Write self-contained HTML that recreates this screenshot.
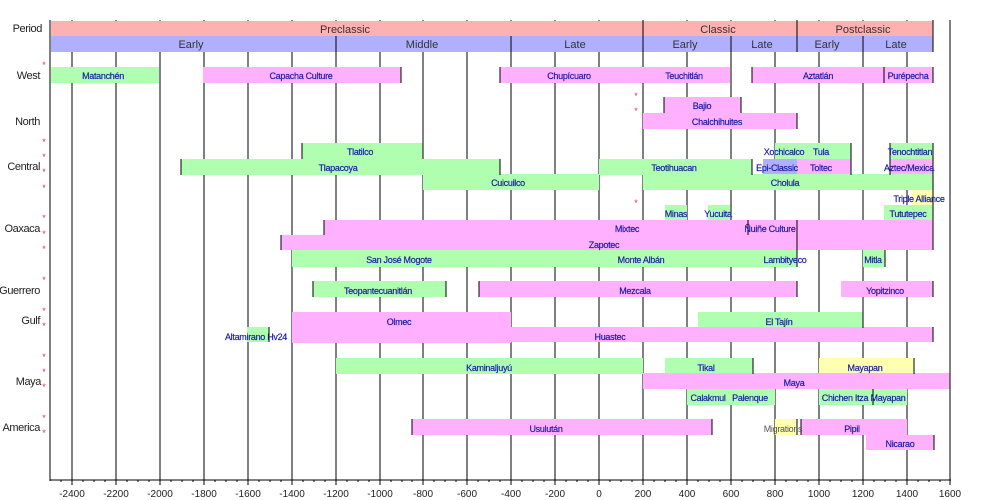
<!DOCTYPE html>
<html><head><meta charset="utf-8"><style>
body{margin:0;background:#fff}
svg{display:block}
.l{font-family:"Liberation Sans",sans-serif;font-size:9px;fill:#1c1ca8;text-anchor:middle;letter-spacing:-0.3px;stroke:#1c1ca8;stroke-width:0.2px}
.p{font-family:"Liberation Sans",sans-serif;font-size:11px;fill:#333;text-anchor:middle}
.r{font-family:"Liberation Sans",sans-serif;font-size:11px;fill:#222;text-anchor:end;letter-spacing:-0.4px}
.t{font-family:"Liberation Sans",sans-serif;font-size:10px;fill:#222;text-anchor:middle}
.s{font-family:"Liberation Sans",sans-serif;font-size:9px;fill:#e03060;text-anchor:middle}
.g{fill:#b0ffb0}.k{fill:#ffb0ff}.y{fill:#ffffb0}.b{fill:#b0b0ff}.pp{fill:#ffb0b0}
line,path{shape-rendering:crispEdges}
</style></head><body>
<svg width="1000" height="500" viewBox="0 0 1000 500">
<g stroke="#000" stroke-width="1">
<line x1="72" y1="20" x2="72" y2="480"/><line x1="116" y1="20" x2="116" y2="480"/><line x1="160" y1="20" x2="160" y2="480"/><line x1="204" y1="20" x2="204" y2="480"/><line x1="248" y1="20" x2="248" y2="480"/><line x1="292" y1="20" x2="292" y2="480"/><line x1="336" y1="20" x2="336" y2="480"/><line x1="380" y1="20" x2="380" y2="480"/><line x1="423" y1="20" x2="423" y2="480"/><line x1="467" y1="20" x2="467" y2="480"/><line x1="511" y1="20" x2="511" y2="480"/><line x1="555" y1="20" x2="555" y2="480"/><line x1="599" y1="20" x2="599" y2="480"/><line x1="643" y1="20" x2="643" y2="480"/><line x1="687" y1="20" x2="687" y2="480"/><line x1="731" y1="20" x2="731" y2="480"/><line x1="775" y1="20" x2="775" y2="480"/><line x1="819" y1="20" x2="819" y2="480"/><line x1="863" y1="20" x2="863" y2="480"/><line x1="907" y1="20" x2="907" y2="480"/>
</g>
<rect class="pp" x="51" y="21" width="882" height="15"/>
<rect class="b" x="51" y="36" width="882" height="16"/>
<g stroke="#000"><line x1="643" y1="20" x2="643" y2="52"/><line x1="797" y1="20" x2="797" y2="52"/><line x1="933" y1="20" x2="933" y2="52"/><line x1="336" y1="36" x2="336" y2="52"/><line x1="511" y1="36" x2="511" y2="52"/><line x1="731" y1="36" x2="731" y2="52"/><line x1="863" y1="36" x2="863" y2="52"/></g>
<text class="p" x="345" y="33">Preclassic</text><text class="p" x="718" y="33">Classic</text><text class="p" x="863" y="33">Postclassic</text>
<text class="p" x="191" y="48">Early</text><text class="p" x="422" y="48">Middle</text><text class="p" x="575" y="48">Late</text><text class="p" x="685" y="48">Early</text><text class="p" x="762" y="48">Late</text><text class="p" x="827" y="48">Early</text><text class="p" x="896" y="48">Late</text>
<rect class="g" x="51" y="67" width="108" height="16"/>
<rect class="k" x="203" y="67" width="198" height="16"/>
<rect class="k" x="500" y="67" width="230" height="16"/>
<rect class="k" x="752" y="67" width="181" height="16"/>
<rect class="k" x="664" y="97" width="77" height="16"/>
<rect class="k" x="643" y="113" width="154" height="16"/>
<rect class="g" x="302" y="143" width="121" height="16"/>
<rect class="g" x="775" y="143" width="76" height="16"/>
<rect class="g" x="890" y="143" width="43" height="16"/>
<rect class="g" x="181" y="159" width="319" height="16"/>
<rect class="g" x="599" y="159" width="153" height="16"/>
<rect class="b" x="763" y="159" width="34" height="16"/>
<rect class="k" x="797" y="159" width="54" height="16"/>
<rect class="k" x="890" y="159" width="43" height="16"/>
<rect class="g" x="423" y="174" width="176" height="16"/>
<rect class="g" x="643" y="174" width="290" height="16"/>
<rect class="y" x="912" y="190" width="21" height="15"/>
<rect class="g" x="665" y="205" width="22" height="15"/>
<rect class="g" x="708" y="205" width="22" height="15"/>
<rect class="g" x="884" y="205" width="49" height="15"/>
<rect class="k" x="324" y="220" width="609" height="15"/>
<rect class="k" x="281" y="235" width="652" height="15"/>
<rect class="g" x="292" y="250" width="505" height="17"/>
<rect class="g" x="863" y="250" width="22" height="17"/>
<rect class="g" x="313" y="281" width="133" height="16"/>
<rect class="k" x="479" y="281" width="318" height="16"/>
<rect class="k" x="841" y="281" width="92" height="16"/>
<rect class="k" x="292" y="312" width="219" height="31"/>
<rect class="g" x="698" y="312" width="165" height="16"/>
<rect class="g" x="247" y="327" width="22" height="15"/>
<rect class="k" x="511" y="327" width="422" height="15"/>
<rect class="g" x="336" y="358" width="307" height="16"/>
<rect class="g" x="665" y="358" width="88" height="16"/>
<rect class="y" x="819" y="358" width="95" height="16"/>
<rect class="k" x="643" y="373" width="307" height="16"/>
<rect class="g" x="687" y="389" width="88" height="16"/>
<rect class="g" x="819" y="389" width="88" height="16"/>
<rect class="k" x="412" y="419" width="300" height="16"/>
<rect class="y" x="775" y="419" width="22" height="16"/>
<rect class="k" x="801" y="419" width="106" height="16"/>
<rect class="k" x="866" y="435" width="68" height="15"/>
<g stroke="#000">
<line x1="401" y1="67" x2="401" y2="83"/><line x1="500" y1="67" x2="500" y2="83"/><line x1="752" y1="67" x2="752" y2="83"/><line x1="884" y1="67" x2="884" y2="83"/><line x1="933" y1="67" x2="933" y2="83"/>
<line x1="664" y1="97" x2="664" y2="113"/><line x1="741" y1="97" x2="741" y2="113"/><line x1="797" y1="113" x2="797" y2="129"/>
<line x1="302" y1="143" x2="302" y2="159"/><line x1="423" y1="143" x2="423" y2="159"/><line x1="851" y1="143" x2="851" y2="175"/><line x1="890" y1="143" x2="890" y2="175"/>
<line x1="181" y1="159" x2="181" y2="175"/><line x1="500" y1="159" x2="500" y2="175"/><line x1="752" y1="159" x2="752" y2="175"/><line x1="933" y1="143" x2="933" y2="250"/>
<line x1="324" y1="220" x2="324" y2="235"/><line x1="748" y1="220" x2="748" y2="235"/><line x1="797" y1="220" x2="797" y2="267"/><line x1="281" y1="235" x2="281" y2="250"/><line x1="885" y1="250" x2="885" y2="267"/>
<line x1="313" y1="281" x2="313" y2="297"/><line x1="446" y1="281" x2="446" y2="297"/><line x1="479" y1="281" x2="479" y2="297"/><line x1="797" y1="281" x2="797" y2="297"/><line x1="933" y1="281" x2="933" y2="297"/>
<line x1="269" y1="327" x2="269" y2="342"/><line x1="863" y1="312" x2="863" y2="328"/><line x1="933" y1="327" x2="933" y2="342"/>
<line x1="753" y1="358" x2="753" y2="374"/><line x1="914" y1="358" x2="914" y2="374"/><line x1="873" y1="389" x2="873" y2="405"/>
<line x1="412" y1="419" x2="412" y2="435"/><line x1="712" y1="419" x2="712" y2="435"/><line x1="797" y1="419" x2="797" y2="435"/><line x1="801" y1="419" x2="801" y2="435"/><line x1="934" y1="435" x2="934" y2="450"/>
</g>
<text class="l" x="103" y="79">Matanchén</text><text class="l" x="301" y="79">Capacha Culture</text><text class="l" x="569" y="79">Chupícuaro</text><text class="l" x="684" y="79">Teuchitlán</text><text class="l" x="818" y="79">Aztatlán</text><text class="l" x="908" y="79">Purépecha</text>
<text class="l" x="702" y="109">Bajio</text><text class="l" x="717" y="125">Chalchihuites</text>
<text class="l" x="360" y="155">Tlatilco</text><text class="l" x="784" y="155">Xochicalco</text><text class="l" x="821" y="155">Tula</text><text class="l" x="910" y="155">Tenochtitlan</text>
<text class="l" x="338" y="171">Tlapacoya</text><text class="l" x="674" y="171">Teotihuacan</text><text class="l" x="777" y="171">Epi-Classic</text><text class="l" x="821" y="171">Toltec</text><text class="l" x="909" y="171">Aztec/Mexica</text>
<text class="l" x="508" y="186">Cuicuilco</text><text class="l" x="785" y="186">Cholula</text>
<text class="l" x="919" y="202">Triple Alliance</text>
<text class="l" x="676" y="217">Minas</text><text class="l" x="718" y="217">Yucuita</text><text class="l" x="908" y="217">Tututepec</text>
<text class="l" x="627" y="232">Mixtec</text><text class="l" x="770" y="232">Ñuiñe Culture</text>
<text class="l" x="604" y="248">Zapotec</text>
<text class="l" x="399" y="263">San José Mogote</text><text class="l" x="641" y="263">Monte Albán</text><text class="l" x="785" y="263">Lambityeco</text><text class="l" x="873" y="263">Mitla</text>
<text class="l" x="378" y="294">Teopantecuanitlán</text><text class="l" x="635" y="294">Mezcala</text><text class="l" x="885" y="294">Yopitzinco</text>
<text class="l" x="399" y="325">Olmec</text><text class="l" x="779" y="325">El Tajín</text>
<text class="l" x="256" y="340">Altamirano Hv24</text><text class="l" x="610" y="340">Huastec</text>
<text class="l" x="489" y="371">Kaminaljuyú</text><text class="l" x="706" y="371">Tikal</text><text class="l" x="865" y="371">Mayapan</text>
<text class="l" x="794" y="386">Maya</text>
<text class="l" x="708" y="401">Calakmul</text><text class="l" x="750" y="401">Palenque</text><text class="l" x="845" y="401">Chichen Itza</text><text class="l" x="888" y="401">Mayapan</text>
<text class="l" x="546" y="432">Usulután</text><text class="l" x="783" y="432" style="fill:#555;stroke:none">Migrations</text><text class="l" x="852" y="432">Pipil</text>
<text class="l" x="900" y="447">Nicarao</text>
<text class="r" x="42" y="32">Period</text><text class="r" x="40" y="79">West</text><text class="r" x="40" y="125">North</text><text class="r" x="40" y="170">Central</text><text class="r" x="40" y="232">Oaxaca</text><text class="r" x="40" y="294">Guerrero</text><text class="r" x="40" y="324">Gulf</text><text class="r" x="41" y="385">Maya</text><text class="r" x="40" y="431">America</text>
<g class="s"><text x="44" y="68">*</text><text x="44" y="145">*</text><text x="44" y="160">*</text><text x="44" y="175">*</text><text x="44" y="191">*</text><text x="44" y="221">*</text><text x="44" y="237">*</text><text x="44" y="252">*</text><text x="44" y="283">*</text><text x="44" y="314">*</text><text x="44" y="329">*</text><text x="44" y="360">*</text><text x="44" y="375">*</text><text x="44" y="390">*</text><text x="44" y="421">*</text><text x="44" y="436">*</text><text x="636" y="99">*</text><text x="636" y="114">*</text><text x="636" y="206">*</text></g>
<g stroke="#000"><line x1="50" y1="20" x2="50" y2="481"/><line x1="950" y1="20" x2="950" y2="481"/><line x1="50" y1="480" x2="951" y2="480"/></g>
<g stroke="#000">
<path d="M72 480v5M116 480v5M160 480v5M204 480v5M248 480v5M292 480v5M336 480v5M380 480v5M423 480v5M467 480v5M511 480v5M555 480v5M599 480v5M643 480v5M687 480v5M731 480v5M775 480v5M819 480v5M863 480v5M907 480v5M950 480v5"/>
<path d="M61 480v2M83 480v2M94 480v2M105 480v2M127 480v2M138 480v2M149 480v2M171 480v2M182 480v2M193 480v2M215 480v2M226 480v2M237 480v2M259 480v2M270 480v2M281 480v2M303 480v2M314 480v2M325 480v2M347 480v2M358 480v2M369 480v2M391 480v2M402 480v2M412 480v2M434 480v2M445 480v2M456 480v2M478 480v2M489 480v2M500 480v2M522 480v2M533 480v2M544 480v2M566 480v2M577 480v2M588 480v2M610 480v2M621 480v2M632 480v2M654 480v2M665 480v2M676 480v2M698 480v2M709 480v2M720 480v2M742 480v2M753 480v2M764 480v2M786 480v2M797 480v2M808 480v2M830 480v2M841 480v2M852 480v2M874 480v2M885 480v2M896 480v2M918 480v2M929 480v2M940 480v2"/>
</g>
<g class="t"><text x="72" y="497">-2400</text><text x="116" y="497">-2200</text><text x="160" y="497">-2000</text><text x="204" y="497">-1800</text><text x="248" y="497">-1600</text><text x="292" y="497">-1400</text><text x="336" y="497">-1200</text><text x="380" y="497">-1000</text><text x="423" y="497">-800</text><text x="467" y="497">-600</text><text x="511" y="497">-400</text><text x="555" y="497">-200</text><text x="599" y="497">0</text><text x="643" y="497">200</text><text x="687" y="497">400</text><text x="731" y="497">600</text><text x="775" y="497">800</text><text x="819" y="497">1000</text><text x="863" y="497">1200</text><text x="907" y="497">1400</text><text x="950" y="497">1600</text></g>
</svg>
</body></html>
